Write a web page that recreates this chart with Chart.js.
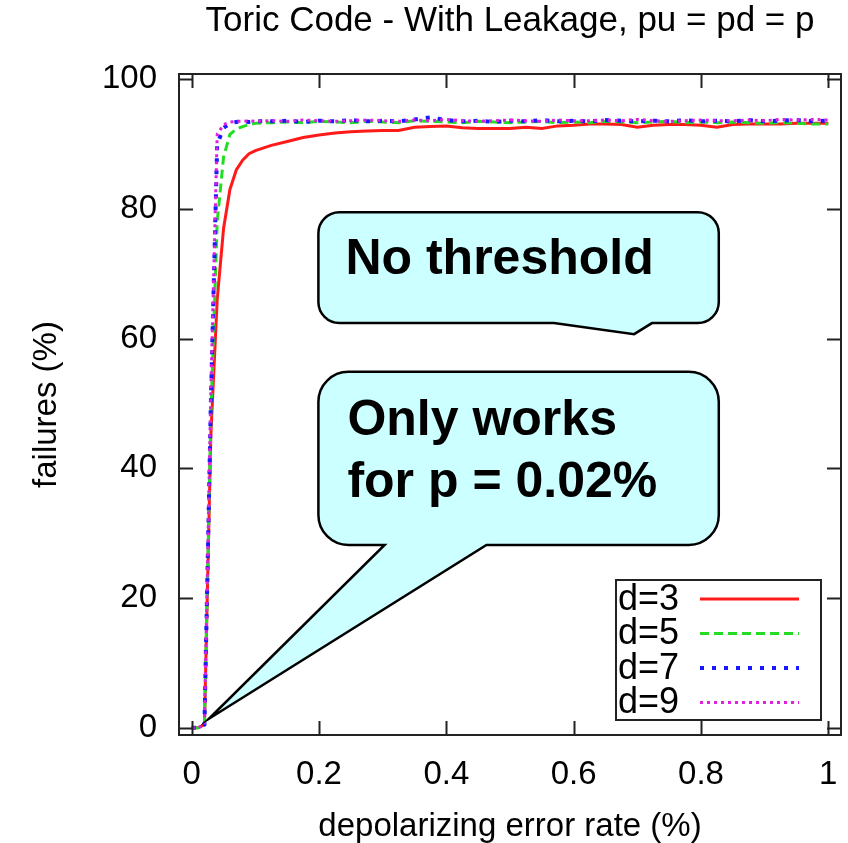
<!DOCTYPE html>
<html>
<head>
<meta charset="utf-8">
<title>Toric Code - With Leakage</title>
<script src="https://cdn.jsdelivr.net/npm/chart.js@4.4.0/dist/chart.umd.min.js"></script>
<style>
  html, body { margin: 0; padding: 0; background: #fff; }
  #wrap { width: 848px; height: 843px; }
</style>
</head>
<body>
<div id="wrap"><canvas id="toricChart" width="848" height="843"></canvas></div>
<script>
// depolarizing error rate (%) on x, failures (%) on y
const errorRate = [0, 0.01, 0.02, 0.03, 0.04, 0.05, 0.06, 0.07, 0.08, 0.09, 0.1,
  0.125, 0.15, 0.175, 0.2, 0.225, 0.25, 0.275, 0.3, 0.325, 0.35,
  0.375, 0.4, 0.425, 0.45, 0.475, 0.5, 0.525, 0.55, 0.575, 0.6,
  0.625, 0.65, 0.675, 0.7, 0.725, 0.75, 0.775, 0.8, 0.825, 0.85,
  0.875, 0.9, 0.925, 0.95, 0.975, 1.0];

const failD3 = [0, 0, 0.5, 45, 66, 77, 83, 86, 87.5, 88.5, 89,
  89.8, 90.4, 91.0, 91.4, 91.7, 91.9, 92.0, 92.1, 92.1, 92.6,
  92.7, 92.8, 92.5, 92.4, 92.4, 92.4, 92.6, 92.4, 92.8, 92.9,
  93.1, 93.1, 93.0, 92.6, 92.9, 93.0, 93.0, 92.9, 92.6, 93.0,
  93.1, 93.1, 93.1, 93.2, 93.2, 93.2];

const failD5 = [0, 0, 0.5, 48, 78, 88, 91.5, 92.3, 92.7, 93.0, 93.2,
  93.3, 93.4, 93.3, 93.5, 93.4, 93.3, 93.5, 93.4, 93.3, 93.6,
  93.5, 93.4, 93.3, 93.5, 93.4, 93.3, 93.4, 93.5, 93.3, 93.4,
  93.3, 93.5, 93.4, 93.3, 93.4, 93.5, 93.3, 93.4, 93.3, 93.4,
  93.3, 93.2, 93.3, 93.2, 93.1, 93.1];

const failD7 = [0, 0, 0.5, 50, 90, 92.5, 93.2, 93.4, 93.5, 93.4, 93.5,
  93.5, 93.6, 93.4, 93.6, 93.5, 93.7, 93.5, 93.6, 93.5, 93.8,
  94.1, 93.7, 93.5, 93.6, 93.4, 93.6, 93.5, 93.7, 93.5, 93.6,
  93.5, 93.7, 93.6, 93.5, 93.6, 93.5, 93.7, 93.5, 93.6, 93.5,
  93.7, 93.5, 93.6, 93.7, 93.5, 93.6];

const failD9 = [0, 0, 0.5, 52, 91.5, 93.0, 93.4, 93.5, 93.5, 93.6, 93.5,
  93.6, 93.5, 93.7, 93.6, 93.5, 93.6, 93.7, 93.6, 93.5, 93.7,
  93.6, 93.8, 93.6, 93.5, 93.6, 93.7, 93.6, 93.5, 93.7, 93.6,
  93.6, 93.7, 93.6, 93.8, 93.6, 93.5, 93.6, 93.7, 93.6, 93.6,
  93.7, 93.6, 93.8, 93.7, 93.8, 93.7];

const seriesLabels = ['d=3', 'd=5', 'd=7', 'd=9'];
const xTickValues = [0, 0.2, 0.4, 0.6, 0.8, 1];
const xTickLabels = ['0', '0.2', '0.4', '0.6', '0.8', '1'];
const yTickValues = [0, 20, 40, 60, 80, 100];
const yTickLabels = ['0', '20', '40', '60', '80', '100'];

const FONT = "'Liberation Sans', Arial, Helvetica, sans-serif";

function toPoints(ys) {
  return errorRate.map((x, i) => ({ x: x, y: ys[i] }));
}

// rounded speech bubble with tail on the bottom edge
function drawBubble(ctx, l, t, r, b, rad, tx1, tx2, tipX, tipY) {
  ctx.beginPath();
  ctx.moveTo(l + rad, t);
  ctx.lineTo(r - rad, t);
  ctx.arcTo(r, t, r, t + rad, rad);
  ctx.lineTo(r, b - rad);
  ctx.arcTo(r, b, r - rad, b, rad);
  ctx.lineTo(tx2, b);
  ctx.lineTo(tipX, tipY);
  ctx.lineTo(tx1, b);
  ctx.lineTo(l + rad, b);
  ctx.arcTo(l, b, l, b - rad, rad);
  ctx.lineTo(l, t + rad);
  ctx.arcTo(l, t, l + rad, t, rad);
  ctx.closePath();
  ctx.fillStyle = '#ccffff';
  ctx.fill();
  ctx.lineWidth = 2.5;
  ctx.strokeStyle = '#000';
  ctx.stroke();
}

const gnuplotDecor = {
  id: 'gnuplotDecor',
  afterDatasetsDraw(chart) {
    const ctx = chart.ctx;
    const a = chart.chartArea;
    const xs = chart.scales.x;
    const ys = chart.scales.y;
    const tl = 14;
    ctx.save();

    // frame
    ctx.strokeStyle = '#222';
    ctx.lineWidth = 2;
    ctx.strokeRect(a.left, a.top, a.right - a.left, a.bottom - a.top);

    // inward ticks, mirrored
    ctx.beginPath();
    xTickValues.forEach(v => {
      const px = Math.round(xs.getPixelForValue(v)) + 0.5;
      ctx.moveTo(px, a.bottom); ctx.lineTo(px, a.bottom - tl);
      ctx.moveTo(px, a.top); ctx.lineTo(px, a.top + tl);
    });
    yTickValues.forEach(v => {
      const py = Math.round(ys.getPixelForValue(v)) + 0.5;
      ctx.moveTo(a.left, py); ctx.lineTo(a.left + tl, py);
      ctx.moveTo(a.right, py); ctx.lineTo(a.right - tl, py);
    });
    ctx.stroke();

    // callout 1
    drawBubble(ctx,
      xs.getPixelForValue(0.199), ys.getPixelForValue(79.5),
      xs.getPixelForValue(0.828), ys.getPixelForValue(62.4), 21,
      xs.getPixelForValue(0.569), xs.getPixelForValue(0.723),
      xs.getPixelForValue(0.695), ys.getPixelForValue(60.7));
    // callout 2
    drawBubble(ctx,
      xs.getPixelForValue(0.199), ys.getPixelForValue(54.9),
      xs.getPixelForValue(0.828), ys.getPixelForValue(28.2), 30,
      xs.getPixelForValue(0.303), xs.getPixelForValue(0.463),
      xs.getPixelForValue(0.027), ys.getPixelForValue(1.4));

    ctx.fillStyle = '#000';
    ctx.font = 'bold 50px ' + FONT;
    ctx.textAlign = 'left';
    ctx.textBaseline = 'alphabetic';
    const bx = xs.getPixelForValue(0.199);
    ctx.fillText('No threshold', bx + 27, ys.getPixelForValue(79.5) + 62);
    ctx.fillText('Only works', bx + 29, ys.getPixelForValue(54.9) + 63);
    ctx.fillText('for p = 0.02%', bx + 29, ys.getPixelForValue(54.9) + 125);

    // key box, gnuplot style (label left, sample right)
    const kl = 616, kt = 580, kr = 821, kb = 720;
    ctx.fillStyle = '#fff';
    ctx.fillRect(kl, kt, kr - kl, kb - kt);
    ctx.strokeStyle = '#222';
    ctx.lineWidth = 2;
    ctx.strokeRect(kl, kt, kr - kl, kb - kt);
    ctx.font = '36px ' + FONT;
    ctx.textBaseline = 'middle';
    chart.data.datasets.forEach((ds, i) => {
      const cy = 599 + i * 34.5;
      ctx.fillStyle = '#000';
      ctx.fillText(ds.label, 618, cy + 1);
      ctx.beginPath();
      ctx.setLineDash(ds.borderDash || []);
      ctx.strokeStyle = ds.borderColor;
      ctx.lineWidth = ds.borderWidth;
      ctx.moveTo(700, cy);
      ctx.lineTo(799, cy);
      ctx.stroke();
    });
    ctx.setLineDash([]);
    ctx.restore();
  }
};

new Chart(document.getElementById('toricChart').getContext('2d'), {
  type: 'line',
  data: {
    datasets: [
      { label: seriesLabels[0], data: toPoints(failD3), borderColor: '#ff1a1a', borderWidth: 3, order: 4 },
      { label: seriesLabels[1], data: toPoints(failD5), borderColor: '#22dd22', borderWidth: 3, borderDash: [9, 5], order: 3 },
      { label: seriesLabels[2], data: toPoints(failD7), borderColor: '#1a1aff', borderWidth: 4, borderDash: [4, 8], order: 2 },
      { label: seriesLabels[3], data: toPoints(failD9), borderColor: '#e020e0', borderWidth: 3, borderDash: [3, 4], order: 1 }
    ]
  },
  options: {
    responsive: false,
    animation: false,
    elements: { point: { radius: 0 }, line: { tension: 0, fill: false, borderCapStyle: 'butt' } },
    layout: { padding: { top: 0, right: 7, left: 0, bottom: 0 } },
    scales: {
      x: {
        type: 'linear',
        min: -0.02,
        max: 1.02,
        afterBuildTicks: s => { s.ticks = xTickValues.map(v => ({ value: v })); },
        afterFit: s => { s.height = 108; s.paddingLeft = 0; s.paddingRight = 0; },
        grid: { display: false, drawTicks: false },
        border: { display: false },
        ticks: {
          padding: 20,
          color: '#000',
          font: { size: 33, family: FONT },
          callback: (v) => xTickLabels[xTickValues.indexOf(v)]
        },
        title: {
          display: true,
          text: 'depolarizing error rate (%)',
          color: '#000',
          font: { size: 33, family: FONT, lineHeight: 1 },
          padding: { top: 0, bottom: 0 }
        }
      },
      y: {
        type: 'linear',
        min: -1.1,
        max: 100.8,
        afterBuildTicks: s => { s.ticks = yTickValues.map(v => ({ value: v })); },
        afterFit: s => { s.width = 179; s.paddingTop = 0; s.paddingBottom = 0; },
        grid: { display: false, drawTicks: false },
        border: { display: false },
        ticks: {
          padding: 22,
          color: '#000',
          font: { size: 33, family: FONT },
          callback: (v) => yTickLabels[yTickValues.indexOf(v)]
        },
        title: {
          display: true,
          text: 'failures (%)',
          color: '#000',
          font: { size: 33, family: FONT, lineHeight: 1 },
          padding: { top: 30, bottom: 0 }
        }
      }
    },
    plugins: {
      legend: { display: false },
      tooltip: { enabled: false },
      title: {
        display: true,
        fullSize: false,
        text: 'Toric Code - With Leakage, pu = pd = p',
        color: '#000',
        font: { size: 35, family: FONT, weight: 'normal', lineHeight: 1.2 },
        padding: { top: 0, bottom: 32 }
      }
    }
  },
  plugins: [gnuplotDecor]
});
</script>
</body>
</html>
